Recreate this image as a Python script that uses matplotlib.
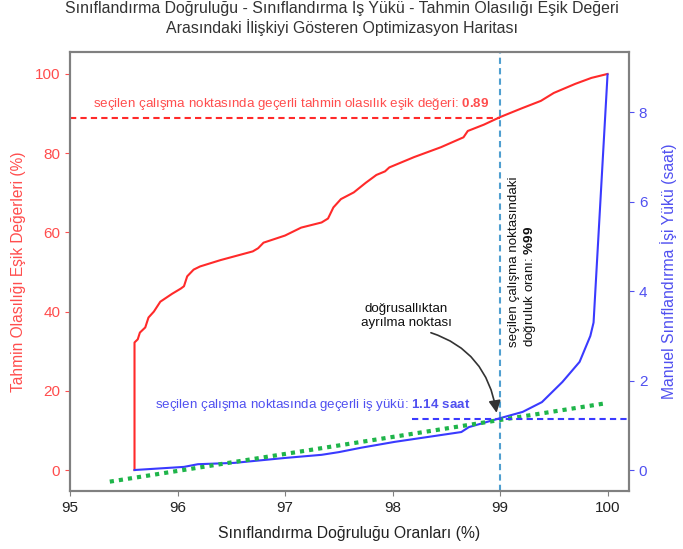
import matplotlib
matplotlib.use("Agg")
import matplotlib.pyplot as plt

plt.rcParams['font.family'] = ['Liberation Sans', 'DejaVu Sans']
plt.rcParams['mathtext.fontset'] = 'custom'
plt.rcParams['mathtext.rm'] = 'Liberation Sans'
plt.rcParams['mathtext.bf'] = 'Liberation Sans:bold'

# red curve: threshold (%) vs accuracy (%)
acc_red = [95.6, 95.6, 95.63, 95.65, 95.7, 95.73, 95.78, 95.84, 95.95, 96.03, 96.06,
           96.09, 96.15, 96.21, 96.4, 96.7, 96.75, 96.8, 97.0, 97.15, 97.34, 97.4,
           97.45, 97.52, 97.64, 97.75, 97.85, 97.93, 97.97, 98.2, 98.45, 98.66,
           98.7, 98.85, 99.0, 99.2, 99.38, 99.5, 99.7, 99.85, 100.0]
thr_red = [0, 32.2, 33, 34.7, 36, 38.5, 40, 42.5, 44.5, 45.8, 46.4,
           48.9, 50.6, 51.4, 53, 55.2, 56, 57.4, 59.2, 61.2, 62.5, 63.5,
           66.3, 68.4, 70.1, 72.5, 74.5, 75.4, 76.4, 79, 81.5, 84,
           85.6, 87.2, 89.1, 91.3, 93.2, 95.2, 97.5, 99, 100]

# blue curve: manual workload (hours) vs accuracy (%)
acc_blue = [95.6, 96.06, 96.19, 96.53, 97.0, 97.34, 97.5, 97.71, 98.02, 98.33,
            98.64, 98.71, 99.0, 99.21, 99.39, 99.58, 99.74, 99.84, 99.87, 100.0]
work_blue = [0, 0.07, 0.13, 0.16, 0.27, 0.34, 0.4, 0.5, 0.63, 0.74,
             0.85, 0.96, 1.16, 1.3, 1.52, 1.97, 2.42, 3.0, 3.3, 8.85]

# linear trend
trend_x = [95.37, 100.0]
trend_y = [-0.26, 1.50]

sel_acc = 99
sel_thr = 89
sel_work = 1.14

red_line = '#ff2a2a'
red_txt = '#ff4d4d'
blue_line = '#3a3aff'
blue_txt = '#5050f0'
vcol = '#4f9fd0'

fig = plt.figure(figsize=(6.83, 5.49), dpi=100)
ax = fig.add_axes([0.1025, 0.1056, 0.8185, 0.7994])
ax2 = ax.twinx()

ax.plot(acc_red, thr_red, color=red_line, lw=1.5)
ax.plot([95, sel_acc], [sel_thr, sel_thr], color=red_line, lw=1.5, ls=(0, (3, 2)))
ax.axvline(sel_acc, color=vcol, lw=1.5, ls=(0, (3, 2)))

ax2.plot(acc_blue, work_blue, color=blue_line, lw=1.5)
ax2.plot(trend_x, trend_y, color='#1fb54a', lw=3, ls=(0, (1, 1.2)))
ax2.plot([98.18, 100.2], [sel_work, sel_work], color=blue_line, lw=1.5, ls=(0, (3, 2)))

ax.set_xlim(95, 100.2)
ax.set_ylim(-5.3, 105.5)
ax2.set_ylim(-0.47, 9.35)
ax.set_xticks([95, 96, 97, 98, 99, 100])
ax.set_yticks([0, 20, 40, 60, 80, 100])
ax2.set_yticks([0, 2, 4, 6, 8])

for a in (ax, ax2):
    for s in a.spines.values():
        s.set_color('#808080')
        s.set_linewidth(1.5)
ax.tick_params(axis='x', colors='#808080', labelcolor='#222222', labelsize=11)
ax.tick_params(axis='y', colors=red_txt, labelcolor=red_txt, labelsize=11)
ax2.tick_params(axis='y', colors=blue_txt, labelcolor=blue_txt, labelsize=11)

ax.set_xlabel('Sınıflandırma Doğruluğu Oranları (%)', fontsize=11.3, color='#222222', labelpad=8)
ax.set_ylabel('Tahmin Olasılığı Eşik Değerleri (%)', fontsize=11.2, color=red_txt, labelpad=6)
ax2.set_ylabel('Manuel Sınıflandırma İşi Yükü (saat)', fontsize=11.3, color=blue_txt, labelpad=9)
fig.suptitle('Sınıflandırma Doğruluğu - Sınıflandırma Iş Yükü - Tahmin Olasılığı Eşik Değeri\n'
             'Arasındaki İlişkiyi Gösteren Optimizasyon Haritası',
             fontsize=11.4, color='#333333', y=0.998)

ax.text(98.9, 90.3, r'seçilen çalışma noktasında geçerli tahmin olasılık eşik değeri: $\bf{0.89}$',
        color=red_txt, fontsize=9.6, ha='right', va='bottom')
ax2.text(98.72, 1.27, r'seçilen çalışma noktasında geçerli iş yükü: $\bf{1.14\ saat}$',
         color=blue_txt, fontsize=9.6, ha='right', va='bottom')
ax.text(99.07, 31.0, 'seçilen çalışma noktasındaki\n' + r'doğruluk oranı: $\bf{\%99}$',
        rotation=90, fontsize=9.6, ha='left', va='bottom', multialignment='left', color='#111111')
ax2.annotate('doğrusallıktan\nayrılma noktası', xy=(98.97, 1.25), xytext=(98.13, 3.45),
             ha='center', va='center', fontsize=9.6, color='#111111',
             arrowprops=dict(arrowstyle='-|>', color='#333333', lw=1.2, relpos=(0.6, 0),
                             connectionstyle='arc3,rad=-0.35', shrinkA=3, shrinkB=1,
                             mutation_scale=18))

fig.savefig('out.png', dpi=100)
